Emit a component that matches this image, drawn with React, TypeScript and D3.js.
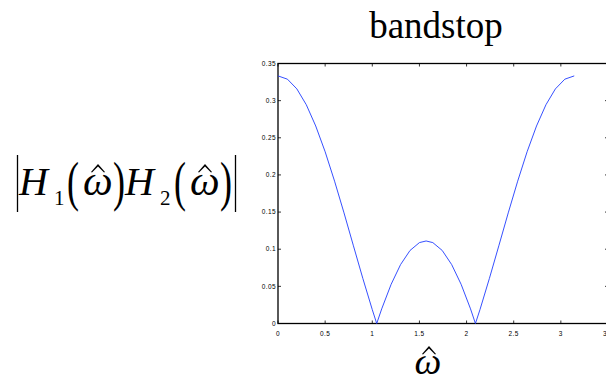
import React from 'react';
import * as d3 from 'd3';

// samples of |H1(w)H2(w)|
const omega = [0, 0.1, 0.2, 0.3, 0.4, 0.5, 0.6, 0.7, 0.8, 0.9, 1.0, 1.047, 1.1, 1.2, 1.3, 1.4, 1.5, 1.571,
  1.642, 1.742, 1.842, 1.942, 2.042, 2.094, 2.142, 2.242, 2.342, 2.442, 2.542, 2.642, 2.742, 2.842, 2.942, 3.042, 3.142];
const magnitude = [0.3333, 0.3289, 0.3158, 0.2945, 0.2659, 0.2312, 0.1916, 0.1489, 0.1046, 0.0606, 0.0186, 0, 0.0197,
  0.0528, 0.0793, 0.0983, 0.1089, 0.1111, 0.1089, 0.0983, 0.0793, 0.0528, 0.0197, 0, 0.0186, 0.0606, 0.1046, 0.1489,
  0.1916, 0.2312, 0.2659, 0.2945, 0.3158, 0.3289, 0.3333];

const xTicks = [0, 0.5, 1, 1.5, 2, 2.5, 3, 3.5];
const yTicks = [0, 0.05, 0.1, 0.15, 0.2, 0.25, 0.3, 0.35];
const title = 'bandstop';

const W = 606;
const H = 381;
const plot = { left: 278, top: 63.5, right: 608, bottom: 323.5 };

// hat accent drawn as a small filled chevron
const Hat = ({ cx, top }: { cx: number; top: number }) => (
  <path
    d={`M${cx - 7},${top + 8} L${cx},${top} L${cx + 7},${top + 8} L${cx + 6},${top + 8.5} L${cx},${top + 2.5} L${cx - 6},${top + 8.5} Z`}
    fill="#000"
  />
);

// tall thin parenthesis: normal glyph stretched vertically
const Paren = ({ x, ch }: { x: number; ch: string }) => (
  <text transform={`translate(${x},${200}) scale(1,1.5)`} fontSize={36}
    fontFamily="Liberation Serif, Times New Roman, serif">{ch}</text>
);

const App = () => {
  const x = d3.scaleLinear().domain([0, 3.5]).range([plot.left, plot.right]);
  const y = d3.scaleLinear().domain([0, 0.35]).range([plot.bottom, plot.top]);

  const line = d3.line<number>()
    .x((_, i) => x(omega[i]))
    .y(d => y(d));

  const tickFont = { fontFamily: 'Liberation Sans, Arial, sans-serif', fontSize: 6.5, letterSpacing: 0.4 };
  const serif = 'Liberation Serif, Times New Roman, serif';

  return (
    <svg width={W} height={H} style={{ position: 'absolute', left: 0, top: 0, background: '#fff' }}>
      <rect width={W} height={H} fill="#fff" />

      {/* title */}
      <text x={436} y={38} textAnchor="middle" fontFamily={serif} fontSize={37}>{title}</text>

      {/* y label: |H1(w)H2(w)| */}
      <g fontFamily={serif} fill="#000">
        <line x1={17.5} x2={17.5} y1={155} y2={212} stroke="#000" strokeWidth={1.3} />
        <text x={19} y={195} fontSize={40} fontStyle="italic">H</text>
        <text x={54} y={205} fontSize={21}>1</text>
        <Paren x={67} ch="(" />
        <text x={83} y={195} fontSize={42} fontStyle="italic">ω</text>
        <Hat cx={98} top={164} />
        <Paren x={113} ch=")" />
        <text x={125} y={195} fontSize={40} fontStyle="italic">H</text>
        <text x={160} y={205} fontSize={21}>2</text>
        <Paren x={174} ch="(" />
        <text x={190} y={195} fontSize={42} fontStyle="italic">ω</text>
        <Hat cx={205} top={164} />
        <Paren x={220} ch=")" />
        <line x1={235.5} x2={235.5} y1={155} y2={212} stroke="#000" strokeWidth={1.3} />
      </g>

      {/* x label */}
      <g fontFamily={serif}>
        <text x={428} y={374} textAnchor="middle" fontSize={38} fontStyle="italic">ω</text>
        <Hat cx={429} top={346} />
      </g>

      {/* box */}
      <rect x={plot.left} y={plot.top} width={plot.right - plot.left} height={plot.bottom - plot.top}
        fill="none" stroke="#000" strokeWidth={1.3} />

      {/* x ticks */}
      {xTicks.map(t => (
        <g key={`x${t}`}>
          <line x1={x(t)} x2={x(t)} y1={plot.bottom} y2={plot.bottom - 3} stroke="#000" strokeWidth={0.8} />
          <line x1={x(t)} x2={x(t)} y1={plot.top} y2={plot.top + 3} stroke="#000" strokeWidth={0.8} />
          <text x={x(t)} y={plot.bottom + 12} textAnchor="middle" {...tickFont}>{t}</text>
        </g>
      ))}

      {/* y ticks */}
      {yTicks.map(t => (
        <g key={`y${t}`}>
          <line x1={plot.left} x2={plot.left + 3} y1={y(t)} y2={y(t)} stroke="#000" strokeWidth={0.8} />
          <line x1={plot.right} x2={plot.right - 3} y1={y(t)} y2={y(t)} stroke="#000" strokeWidth={0.8} />
          <text x={plot.left - 2} y={y(t)} dy="0.35em" textAnchor="end" {...tickFont}>{t}</text>
        </g>
      ))}

      {/* curve */}
      <path d={line(magnitude) ?? ''} fill="none" stroke="#1f3cff" strokeWidth={0.9} />
    </svg>
  );
};

export default App;
